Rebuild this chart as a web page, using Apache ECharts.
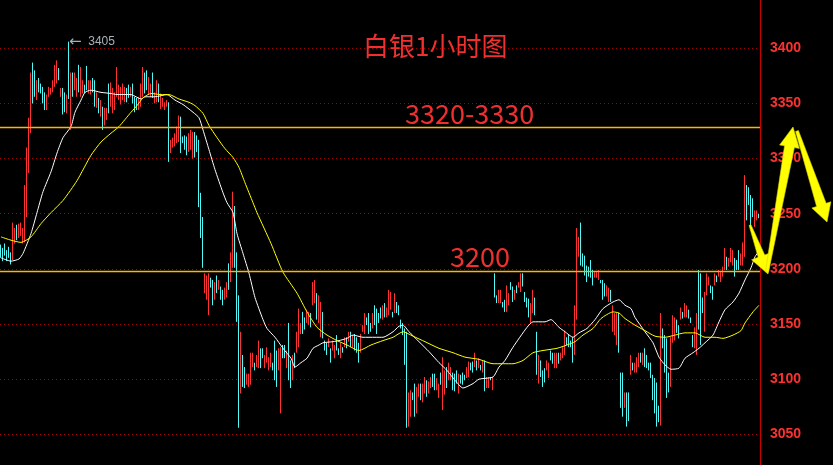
<!DOCTYPE html>
<html><head><meta charset="utf-8">
<script src="https://cdn.jsdelivr.net/npm/echarts@6/dist/echarts.min.js"></script>
<style>html,body{margin:0;padding:0;background:#000;}#c{width:833px;height:465px;}</style>
</head><body><div id="c"></div>
<script>
// ---- candle data (1-hour silver) ----
const open = [
3222,3219,3223,3217,3220,3215,3208,3223,3240,3228,3230,3223,3224,3247,3287,3323,3387,3380,3353,3373,
3368,3365,3360,3344,3356,3358,3360,3365,3368,3382,3356,3364,3360,3341,3378,3326,3378,3362,3356,3385,
3356,3359,3367,3384,3359,3358,3373,3371,3346,3355,3338,3347,3330,3335,3368,3347,3341,3344,3356,3353,
3349,3353,3351,3364,3367,3356,3368,3356,3355,3344,3347,3356,3378,3380,3358,3356,3378,3350,3351,3368,
3345,3347,3344,3347,3351,3305,3310,3311,3314,3315,3338,3320,3321,3320,3306,3308,3300,3324,3321,3317,
3269,3247,3178,3172,3158,3192,3190,3172,3194,3181,3184,3181,3172,3174,3205,3188,3201,3257,3215,3176,
3087,3122,3111,3095,3093,3095,3111,3115,3111,3110,3128,3128,3110,3115,3108,3111,3115,3135,3126,3108,
3108,3131,3131,3110,3151,3117,3099,3124,3124,3129,3141,3161,3156,3151,3149,3160,3167,3169,3178,3151,
3138,3161,3135,3133,3129,3128,3126,3119,3140,3128,3119,3129,3129,3138,3134,3143,3129,3141,3138,3133,
3124,3143,3141,3156,3160,3151,3146,3167,3164,3160,3165,3154,3169,3156,3158,3163,3161,3160,3170,3167,
3154,3151,3146,3143,3057,3066,3088,3096,3069,3084,3096,3079,3087,3099,3087,3092,3105,3105,3090,3083,
3106,3072,3086,3111,3099,3099,3106,3105,3108,3087,3104,3106,3104,3101,3102,3115,3116,3111,3117,3110,
3113,3106,3117,3092,3092,3102,3090,3196,3176,3169,3169,3170,3172,3161,3167,3188,3184,3172,3185,3183,
3179,3196,3179,3174,3173,3151,3160,3174,3143,3096,3117,3108,3110,3108,3101,3126,3124,3110,3110,3124,
3117,3119,3122,3138,3140,3135,3138,3122,3154,3211,3242,3214,3212,3203,3202,3208,3199,3192,3192,3190,
3190,3190,3187,3175,3170,3181,3143,3140,3131,3160,3106,3106,3074,3088,3088,3104,3115,3106,3106,3111,
3124,3113,3128,3122,3115,3115,3104,3101,3097,3076,3058,3146,3140,3137,3106,3093,3133,3135,3154,3149,
3154,3161,3156,3156,3163,3156,3140,3128,3122,3199,3196,3174,3143,3176,3185,3185,3184,3185,3194,3193,
3188,3193,3199,3211,3202,3206,3203,3210,3208,3217,3203,3203,3211,3276,3274,3267,3264,3238,3244,3250];
const close = [
3210,3207,3212,3207,3210,3204,3242,3237,3226,3241,3242,3237,3276,3310,3337,3378,3350,3356,3371,3360,
3359,3350,3344,3358,3365,3364,3371,3385,3389,3371,3364,3340,3342,3358,3355,3378,3356,3378,3373,3360,
3383,3371,3359,3362,3371,3371,3360,3347,3360,3341,3353,3326,3346,3346,3341,3369,3364,3360,3383,3367,
3365,3368,3365,3351,3355,3365,3350,3342,3344,3356,3368,3383,3359,3362,3374,3368,3355,3360,3371,3351,
3359,3355,3351,3353,3297,3317,3319,3323,3329,3339,3305,3314,3308,3303,3323,3326,3324,3301,3306,3256,
3228,3201,3196,3194,3196,3183,3167,3188,3178,3190,3172,3167,3183,3188,3181,3215,3270,3201,3152,3056,
3143,3093,3092,3105,3105,3124,3124,3108,3122,3135,3110,3119,3122,3129,3120,3124,3108,3099,3093,3128,
3129,3119,3119,3126,3099,3092,3122,3110,3143,3164,3151,3141,3145,3163,3161,3147,3188,3190,3154,3176,
3170,3137,3126,3122,3137,3115,3135,3131,3126,3122,3133,3124,3138,3128,3143,3129,3140,3126,3124,3115,
3141,3149,3160,3149,3141,3143,3160,3149,3141,3151,3155,3167,3156,3165,3181,3179,3156,3178,3160,3158,
3146,3140,3113,3056,3088,3090,3081,3066,3093,3096,3081,3096,3102,3084,3098,3102,3093,3090,3101,3096,
3095,3120,3108,3092,3115,3111,3090,3089,3096,3105,3096,3095,3099,3111,3116,3108,3106,3124,3108,3119,
3108,3117,3089,3102,3102,3099,3102,3174,3169,3181,3181,3165,3161,3185,3178,3181,3170,3181,3178,3188,
3196,3184,3170,3165,3156,3169,3181,3158,3104,3122,3102,3093,3097,3117,3115,3117,3114,3124,3124,3114,
3124,3129,3144,3131,3129,3129,3115,3167,3237,3229,3203,3202,3194,3188,3193,3192,3185,3197,3197,3199,
3187,3172,3175,3185,3183,3170,3167,3160,3160,3124,3074,3066,3088,3057,3062,3122,3108,3115,3120,3124,
3115,3124,3111,3110,3108,3101,3081,3069,3057,3061,3160,3128,3106,3083,3088,3138,3158,3156,3142,3137,
3165,3155,3169,3167,3155,3151,3129,3147,3160,3145,3131,3160,3179,3196,3193,3178,3172,3196,3188,3199,
3197,3202,3219,3199,3210,3219,3217,3193,3199,3199,3214,3224,3285,3244,3258,3238,3247,3253,3253,3246];
const low = [
3210,3207,3212,3207,3210,3204,3208,3223,3226,3228,3230,3223,3224,3247,3287,3323,3350,3356,3353,3360,
3359,3350,3344,3344,3356,3358,3360,3365,3368,3371,3356,3340,3342,3341,3354,3326,3356,3362,3356,3360,
3356,3359,3359,3362,3359,3358,3360,3347,3346,3341,3338,3326,3330,3335,3341,3347,3341,3344,3356,3353,
3349,3353,3351,3351,3355,3356,3350,3342,3344,3344,3347,3356,3359,3362,3358,3356,3355,3350,3351,3351,
3345,3347,3344,3347,3297,3305,3310,3311,3314,3315,3305,3314,3308,3303,3306,3308,3300,3301,3306,3256,
3228,3201,3178,3172,3158,3183,3167,3172,3178,3181,3172,3167,3172,3174,3181,3188,3201,3201,3152,3056,
3087,3093,3092,3095,3093,3095,3111,3108,3111,3110,3110,3119,3110,3115,3108,3111,3108,3099,3093,3108,
3069,3119,3119,3110,3099,3092,3099,3110,3124,3129,3141,3141,3145,3151,3149,3147,3167,3169,3154,3151,
3138,3137,3126,3122,3129,3115,3126,3119,3126,3122,3119,3124,3129,3128,3134,3129,3129,3126,3124,3115,
3124,3143,3141,3149,3141,3143,3146,3149,3141,3151,3155,3154,3156,3156,3158,3163,3156,3160,3160,3158,
3146,3140,3113,3056,3057,3066,3081,3066,3069,3084,3081,3079,3087,3084,3087,3092,3093,3090,3090,3083,
3095,3072,3086,3092,3099,3099,3090,3089,3096,3087,3096,3095,3099,3101,3102,3108,3106,3111,3108,3110,
3108,3106,3089,3092,3092,3099,3090,3174,3169,3169,3169,3165,3161,3161,3167,3181,3170,3172,3178,3183,
3179,3184,3170,3165,3156,3151,3160,3158,3104,3096,3102,3093,3097,3108,3101,3117,3114,3110,3110,3114,
3117,3119,3122,3131,3129,3129,3115,3122,3154,3211,3203,3202,3194,3188,3193,3192,3185,3192,3192,3190,
3187,3172,3175,3175,3170,3170,3143,3140,3131,3124,3074,3066,3074,3057,3062,3104,3108,3106,3106,3111,
3115,3113,3111,3110,3108,3101,3081,3069,3057,3061,3058,3128,3106,3083,3088,3093,3133,3135,3142,3137,
3154,3155,3156,3156,3155,3151,3129,3128,3122,3145,3131,3160,3143,3176,3185,3178,3172,3185,3188,3193,
3188,3193,3199,3199,3202,3206,3203,3193,3199,3199,3203,3203,3211,3244,3258,3238,3247,3238,3244,3246];
const high = [
3222,3219,3223,3217,3220,3215,3242,3237,3240,3241,3242,3237,3276,3310,3337,3378,3387,3380,3371,3373,
3368,3365,3360,3358,3365,3364,3371,3385,3389,3382,3364,3364,3360,3358,3406,3378,3378,3378,3373,3385,
3383,3371,3367,3384,3371,3371,3373,3371,3360,3355,3353,3347,3346,3346,3368,3369,3364,3360,3383,3367,
3365,3368,3365,3364,3367,3365,3368,3356,3355,3356,3368,3383,3378,3380,3374,3368,3378,3360,3371,3368,
3359,3355,3351,3353,3351,3317,3319,3323,3329,3339,3338,3320,3321,3320,3323,3326,3324,3324,3321,3317,
3269,3247,3196,3194,3196,3192,3190,3188,3194,3190,3184,3181,3183,3188,3205,3215,3270,3257,3215,3176,
3143,3122,3111,3105,3105,3124,3124,3115,3122,3135,3128,3128,3122,3129,3120,3124,3115,3135,3126,3128,
3129,3131,3131,3126,3151,3117,3122,3124,3143,3164,3151,3161,3156,3163,3161,3160,3188,3190,3178,3176,
3170,3161,3135,3133,3137,3128,3135,3131,3140,3128,3133,3129,3138,3138,3143,3143,3140,3141,3138,3133,
3141,3149,3160,3156,3160,3151,3160,3167,3164,3160,3165,3167,3169,3165,3181,3179,3161,3178,3170,3167,
3154,3151,3146,3143,3088,3090,3088,3096,3093,3096,3096,3096,3102,3099,3098,3102,3105,3105,3101,3096,
3106,3120,3108,3111,3115,3111,3106,3105,3108,3105,3104,3106,3104,3111,3116,3115,3116,3124,3117,3119,
3113,3117,3117,3102,3102,3102,3102,3196,3176,3181,3181,3170,3172,3185,3178,3188,3184,3181,3185,3188,
3196,3196,3179,3174,3173,3169,3181,3174,3143,3122,3117,3108,3110,3117,3115,3126,3124,3124,3124,3124,
3124,3129,3144,3138,3140,3135,3138,3167,3237,3229,3242,3214,3212,3203,3202,3208,3199,3197,3197,3199,
3190,3190,3187,3185,3183,3181,3167,3160,3160,3160,3106,3106,3088,3088,3088,3122,3115,3115,3120,3124,
3124,3124,3128,3122,3115,3115,3104,3101,3097,3076,3160,3146,3140,3137,3106,3138,3158,3156,3154,3149,
3165,3161,3169,3167,3163,3156,3140,3147,3160,3199,3196,3174,3179,3196,3193,3185,3184,3196,3194,3199,
3197,3202,3219,3211,3210,3219,3217,3210,3208,3217,3214,3224,3285,3276,3274,3267,3264,3253,3253,3250];

// moving averages: [bar index, value]
const maWhite = [[0,3210],[5,3207],[9,3209],[11,3214],[15,3232],[18,3251],[21,3270],[25,3288],[28,3305],[31,3319],[35,3329],[37,3342],[40,3353],[42,3360],[45,3362],[50,3360],[55,3359],[58,3358],[65,3358],[70,3354],[72,3356],[77,3356],[83,3358],[87,3353],[91,3349],[96,3342],[99,3337],[101,3326],[104,3308],[107,3290],[111,3269],[113,3260],[116,3251],[118,3232],[121,3214],[124,3196],[127,3174],[131,3154],[133,3146],[137,3138],[141,3128],[145,3119],[147,3111],[150,3115],[153,3119],[156,3128],[159,3131],[161,3133],[166,3134],[169,3135],[173,3137],[176,3140],[181,3138],[187,3138],[191,3138],[196,3143],[199,3148],[201,3149],[204,3143],[209,3134],[214,3125],[219,3115],[223,3108],[227,3099],[231,3092],[236,3096],[239,3100],[246,3102],[249,3111],[252,3117],[256,3129],[263,3147],[266,3152],[272,3152],[275,3154],[279,3147],[282,3143],[286,3138],[289,3142],[293,3146],[297,3154],[301,3164],[306,3170],[309,3172],[312,3167],[315,3164],[317,3156],[322,3143],[326,3133],[329,3120],[332,3113],[335,3109],[339,3110],[342,3119],[346,3124],[349,3128],[352,3133],[356,3140],[359,3152],[362,3163],[366,3170],[369,3178],[372,3190],[375,3201],[377,3211],[379,3216]];
const maYellow = [[0,3229],[5,3226],[10,3224],[15,3229],[20,3241],[25,3251],[31,3262],[38,3280],[45,3303],[50,3315],[55,3323],[59,3329],[65,3342],[68,3348],[71,3355],[75,3359],[80,3358],[84,3358],[89,3354],[94,3351],[97,3348],[101,3341],[104,3330],[108,3319],[112,3309],[116,3301],[119,3292],[122,3278],[126,3260],[128,3251],[135,3223],[141,3197],[148,3178],[153,3161],[158,3147],[163,3140],[168,3135],[173,3131],[179,3126],[185,3131],[191,3135],[196,3138],[201,3143],[206,3139],[212,3134],[219,3128],[226,3124],[232,3120],[239,3118],[246,3114],[256,3114],[261,3117],[266,3124],[271,3126],[278,3128],[283,3131],[287,3134],[291,3140],[296,3146],[300,3155],[306,3161],[309,3160],[312,3155],[317,3149],[322,3144],[327,3139],[332,3138],[337,3140],[342,3142],[347,3142],[352,3138],[357,3138],[361,3137],[366,3140],[370,3144],[372,3151],[376,3161],[379,3167]];

const levelLines = [3328, 3197.5];
const peakIndex = 34, peakLabel = '3405';
const yTicks = {min: 3000, max: 3450, step: 50};

const categories = open.map((_, i) => String(i + 1));
const candles = open.map((o, i) => [o, close[i], low[i], high[i]]);

function arrowPoints(s, t, w0, w1, hw, hl) {
  const dx = t[0] - s[0], dy = t[1] - s[1], L = Math.hypot(dx, dy);
  const ux = dx / L, uy = dy / L, nx = -uy, ny = ux;
  const bx = t[0] - ux * hl, by = t[1] - uy * hl;
  return [[s[0] + nx * w0 / 2, s[1] + ny * w0 / 2], [bx + nx * w1 / 2, by + ny * w1 / 2],
          [bx + nx * hw / 2, by + ny * hw / 2], [t[0], t[1]],
          [bx - nx * hw / 2, by - ny * hw / 2], [bx - nx * w1 / 2, by - ny * w1 / 2],
          [s[0] - nx * w0 / 2, s[1] - ny * w0 / 2]];
}
const arrows = [
  arrowPoints([750, 225], [768, 274], 2, 7, 21, 19),
  arrowPoints([767, 272], [793, 127], 3, 10, 20, 20),
  arrowPoints([797, 131], [827, 222], 3, 10, 20, 18)
];

const red = '#ff3232', cyan = '#50f8f8';
const chart = echarts.init(document.getElementById('c'));
chart.setOption({
  backgroundColor: '#000',
  animation: false,
  grid: {left: 0, width: 760, top: -6.9, height: 496.4, outerBoundsMode: 'none', containLabel: false},
  xAxis: {type: 'category', data: categories, show: false, boundaryGap: true},
  yAxis: {
    type: 'value', position: 'right', min: yTicks.min, max: yTicks.max, interval: yTicks.step,
    axisLine: {show: true, lineStyle: {color: '#c80000', width: 1}},
    axisTick: {show: false},
    axisLabel: {color: '#ff3030', fontWeight: 'bold', fontSize: 14, fontFamily: 'Liberation Sans',
                margin: 10, showMinLabel: false, showMaxLabel: false, formatter: v => String(v)},
    splitLine: {show: true, lineStyle: {color: '#a00000', width: 1, type: [1, 3]}}
  },
  series: [
    {
      type: 'candlestick', data: candles, barWidth: 1,
      itemStyle: {color: red, color0: cyan, borderColor: red, borderColor0: cyan, borderWidth: 1},
      markLine: {
        silent: true, symbol: 'none', label: {show: false},
        lineStyle: {color: '#ffb400', width: 1.3, type: 'solid'},
        data: levelLines.map(v => ({yAxis: v}))
      },
      markPoint: {
        symbol: 'circle', symbolSize: 0, silent: true,
        data: [{coord: [categories[peakIndex], high[peakIndex]]}],
        label: {show: true, position: 'right', distance: 0, formatter: '{a|←}  {b|' + peakLabel + '}',
                rich: {a: {color: '#a8b0b8', fontSize: 15, fontFamily: 'DejaVu Sans'},
                       b: {color: '#a8b0b8', fontSize: 12, fontFamily: 'Liberation Sans'}}}
      }
    },
    {type: 'line', data: maWhite, symbol: 'none', connectNulls: true, smooth: 0.2,
     lineStyle: {color: '#ffffff', width: 1}, z: 3},
    {type: 'line', data: maYellow, symbol: 'none', connectNulls: true, smooth: 0.2,
     lineStyle: {color: '#ffff00', width: 1}, z: 3}
  ],
  graphic: [
    {type: 'text', left: 363, top: 33, z: 10,
     style: {text: '白银1小时图', fill: '#f03030', fontSize: 26, fontFamily: 'Noto Sans CJK SC'}},
    {type: 'text', left: 405, top: 100, z: 10,
     style: {text: '3320-3330', fill: '#f03030', fontSize: 27, fontFamily: 'Noto Sans CJK SC'}},
    {type: 'text', left: 450, top: 243, z: 10,
     style: {text: '3200', fill: '#f03030', fontSize: 27, fontFamily: 'Noto Sans CJK SC'}}
  ].concat(arrows.map(p => ({type: 'polygon', z: 20, shape: {points: p},
     style: {fill: '#ffff00', stroke: '#d8d800', lineWidth: 0.6}})))
});
</script></body></html>
